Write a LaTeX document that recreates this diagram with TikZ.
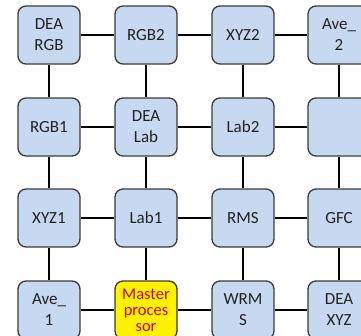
\documentclass[tikz,border=0pt]{standalone}
\usepackage{fontspec}
\setmainfont{Carlito}
\definecolor{boxfill}{HTML}{C6D9F1}
\definecolor{boxline}{HTML}{3A3A3A}
\definecolor{txt}{HTML}{222222}
\definecolor{mred}{HTML}{C80000}
\begin{document}
\begin{tikzpicture}[x=1pt,y=-1pt,
  box/.style={draw=boxline, line width=1.3pt, fill=boxfill, rounded corners=8pt,
    minimum width=62pt, minimum height=58pt, align=center,
    font=\fontsize{17}{21}\selectfont, text=txt, inner sep=0pt},
  master/.style={box, fill=yellow, text=mred, font=\fontsize{16.5}{16}\selectfont},
  link/.style={line width=1.5pt, draw=black}]
\useasboundingbox (0,0) rectangle (361,335);
% row 1
\node[box] (a1) at (49,35) {DEA\\RGB};
\node[box] (a2) at (146,35) {RGB2};
\node[box] (a3) at (243,35) {XYZ2};
\node[box] (a4) at (339,35) {Ave\_\\2};
% row 2
\node[box] (b1) at (49,127) {RGB1};
\node[box] (b2) at (146,127) {DEA\\Lab};
\node[box] (b3) at (243,127) {Lab2};
\node[box] (b4) at (339,127) {};
% row 3
\node[box] (c1) at (49,218) {XYZ1};
\node[box] (c2) at (146,218) {Lab1};
\node[box] (c3) at (243,218) {RMS};
\node[box] (c4) at (339,218) {GFC};
% row 4
\node[box] (d1) at (49,310) {Ave\_\\1};
\node[master] (d2) at (146,310) {Master\\proces\\sor};
\node[box] (d3) at (243,310) {WRM\\S};
\node[box] (d4) at (339,310) {DEA\\XYZ};
% horizontal links
\foreach \r in {a,b,c,d}{
  \draw[link] (\r1) -- (\r2);
  \draw[link] (\r2) -- (\r3);
  \draw[link] (\r3) -- (\r4);
}
% vertical links
\foreach \c in {1,2,3,4}{
  \draw[link] (a\c) -- (b\c);
  \draw[link] (b\c) -- (c\c);
  \draw[link] (c\c) -- (d\c);
}
\end{tikzpicture}
\end{document}
